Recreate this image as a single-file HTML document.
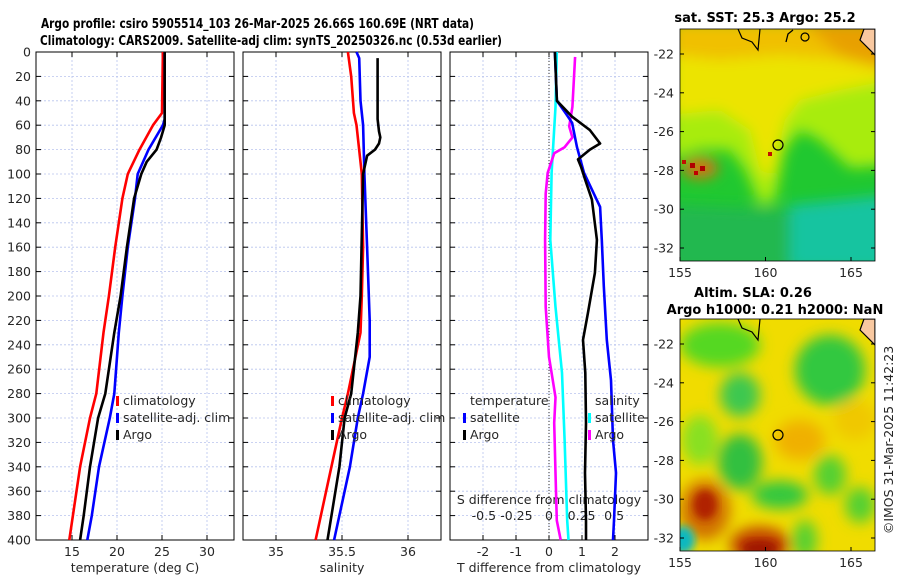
<!DOCTYPE html>
<html><head><meta charset="utf-8"><style>
html,body{margin:0;padding:0;background:#fff}
svg{display:block;font-family:"DejaVu Sans","Liberation Sans",sans-serif}
.t{font-size:12.5px;fill:#262626}
.b{font-weight:bold;font-size:13px;fill:#000}
.bt{font-weight:bold;font-size:13.5px;fill:#000}
</style></head><body>
<svg id="fig" width="900" height="580" viewBox="0 0 900 580">
<defs>
<filter id="bl" x="-20%" y="-20%" width="140%" height="140%"><feGaussianBlur stdDeviation="7"/></filter>
<filter id="bl2" x="-20%" y="-20%" width="140%" height="140%"><feGaussianBlur stdDeviation="4"/></filter>
<clipPath id="c1"><rect x="680" y="29" width="195" height="232"/></clipPath>
<clipPath id="c2"><rect x="680" y="319" width="195" height="232"/></clipPath>
</defs>
<text class="bt" x="41" y="28" textLength="433" lengthAdjust="spacingAndGlyphs">Argo profile: csiro 5905514_103 26-Mar-2025 26.66S 160.69E (NRT data)</text>
<text class="bt" x="40" y="45" textLength="462" lengthAdjust="spacingAndGlyphs">Climatology: CARS2009. Satellite-adj clim: synTS_20250326.nc (0.53d earlier)</text>
<g id="axes"></g>
<g id="lines"></g>

<!-- map 1 SST -->
<g>
<g clip-path="url(#c1)">
<rect x="680" y="29" width="195" height="232" fill="#20c830"/>
<g filter="url(#bl)">
<path d="M670,20 L890,20 L890,165 L850,168 L820,140 L800,130 L785,150 L775,200 L760,205 L745,170 L730,150 L700,150 L670,160 Z" fill="#a8ec10"/>
<path d="M670,20 L890,20 L890,80 L840,90 L800,100 L785,120 L770,180 L760,170 L750,130 L720,110 L670,115 Z" fill="#ece400"/>
<path d="M670,20 L890,20 L890,70 L840,60 L780,55 L720,60 L670,55 Z" fill="#f0c000"/>
<path d="M800,20 L890,20 L890,70 L840,55 Z" fill="#e8a000"/>
<path d="M790,205 L890,195 L890,270 L790,270 Z" fill="#14c4a0"/>
<path d="M670,205 L790,210 L790,270 L670,270 Z" fill="#22b850"/>
<ellipse cx="700" cy="168" rx="18" ry="10" fill="#e07010"/>
</g>
<rect x="690" y="163" width="5" height="5" fill="#b00000"/><rect x="700" y="166" width="5" height="5" fill="#b00000"/><rect x="682" y="160" width="4" height="4" fill="#c01000"/><rect x="694" y="171" width="4" height="4" fill="#c00000"/>
<rect x="768" y="152" width="4" height="4" fill="#c01000"/>
<path d="M864,29 L875,29 L875,55 L860,40 Z" fill="#f8c8a0" stroke="#000" stroke-width="1.2"/>
<path d="M738,29 L742,38 L752,42 L758,50 L760,29" fill="none" stroke="#000" stroke-width="1.2"/>
<path d="M786,42 L788,34 L793,30" fill="none" stroke="#000" stroke-width="1.3"/>
<ellipse cx="805" cy="37" rx="4" ry="4" fill="none" stroke="#000" stroke-width="1.2"/>
<circle cx="778" cy="145" r="5" fill="none" stroke="#000" stroke-width="1.2"/>
</g>
<rect x="680" y="29" width="195" height="232" fill="none" stroke="#000" stroke-width="0.8"/>
<text class="b" x="765" y="22" text-anchor="middle">sat. SST: 25.3 Argo: 25.2</text>
</g>

<!-- map 2 SLA -->
<g>
<g clip-path="url(#c2)">
<rect x="680" y="319" width="195" height="232" fill="#f0dc00"/>
<g filter="url(#bl)">
<ellipse cx="720" cy="345" rx="40" ry="22" fill="#55d820"/>
<ellipse cx="830" cy="370" rx="35" ry="35" fill="#33c840"/>
<ellipse cx="740" cy="395" rx="20" ry="22" fill="#3cc850"/>
<ellipse cx="740" cy="462" rx="22" ry="28" fill="#33c040"/>
<ellipse cx="780" cy="495" rx="28" ry="14" fill="#33c840"/>
<ellipse cx="830" cy="475" rx="16" ry="20" fill="#55d030"/>
<ellipse cx="700" cy="440" rx="18" ry="25" fill="#88e020"/>
<ellipse cx="860" cy="505" rx="15" ry="18" fill="#55d030"/>
<ellipse cx="805" cy="540" rx="12" ry="20" fill="#55d030"/>
<ellipse cx="705" cy="510" rx="25" ry="30" fill="#d07000"/>
<ellipse cx="760" cy="545" rx="30" ry="18" fill="#c04000"/>
<ellipse cx="800" cy="440" rx="25" ry="20" fill="#f0b000"/>
<ellipse cx="855" cy="420" rx="22" ry="20" fill="#f0c800"/>
</g>
<ellipse cx="705" cy="505" rx="12" ry="15" fill="#b02000" filter="url(#bl2)"/>
<ellipse cx="760" cy="548" rx="18" ry="8" fill="#a01800" filter="url(#bl2)"/>
<ellipse cx="683" cy="540" rx="12" ry="14" fill="#10b8c0" filter="url(#bl2)"/>
<path d="M864,319 L875,319 L875,345 L860,330 Z" fill="#f8c8a0" stroke="#000" stroke-width="1.2"/>
<path d="M738,319 L742,328 L752,332 L758,340 L760,319" fill="none" stroke="#000" stroke-width="1.2"/>
<circle cx="778" cy="435" r="5" fill="none" stroke="#000" stroke-width="1.2"/>
</g>
<rect x="680" y="319" width="195" height="232" fill="none" stroke="#000" stroke-width="0.8"/>
<text class="b" x="753" y="297" text-anchor="middle">Altim. SLA: 0.26</text>
<text class="b" x="775" y="314" text-anchor="middle">Argo h1000: 0.21 h2000: NaN</text>
</g>
<g id="mapticks"></g>
<text class="t" transform="translate(893,440) rotate(-90)" text-anchor="middle">©IMOS 31-Mar-2025 11:42:23</text>
</svg>
<script>
// ---- data ----
const depthTicks = [0,20,40,60,80,100,120,140,160,180,200,220,240,260,280,300,320,340,360,380,400];
const tempTicks = [15,20,25,30];
const salTicks = [35,35.5,36];
const salTickLabels = ["35","35.5","36"];
const tdiffTicks = [-2,-1,0,1,2];
const sdiffTicks = [-0.5,-0.25,0,0.25,0.5];
const sdiffTickLabels = ["-0.5","-0.25","0","0.25","0.5"];

const climTDepth = [0,50,60,80,100,120,140,160,200,230,280,300,340,380,400];
const climT      = [25.1,25.0,24.0,22.5,21.2,20.6,20.2,19.8,19.1,18.5,17.7,17.0,15.9,15.1,14.7];
const satTDepth  = [0,55,60,80,100,120,160,200,230,280,300,340,380,400];
const satT       = [25.3,25.3,25.1,23.5,22.3,22.0,21.2,20.6,20.2,19.7,19.2,18.0,17.2,16.7];
const argoTDepth = [0,60,70,80,90,100,120,160,200,230,280,300,340,380,400];
const argoT      = [25.3,25.3,24.9,24.4,23.3,22.7,21.9,21.1,20.4,19.7,18.7,17.9,17.0,16.3,15.9];

const climSDepth = [0,20,50,60,100,160,200,230,280,300,340,400];
const climS      = [35.545,35.57,35.59,35.61,35.65,35.66,35.65,35.64,35.545,35.50,35.42,35.30];
const satSDepth  = [0,5,40,60,100,160,220,250,280,300,340,400];
const satS       = [35.61,35.63,35.64,35.66,35.67,35.69,35.71,35.71,35.66,35.62,35.56,35.44];
const argoSDepth = [5,55,65,70,75,80,85,100,150,200,230,280,300,340,400];
const argoS      = [35.77,35.77,35.78,35.79,35.78,35.75,35.69,35.66,35.65,35.64,35.62,35.57,35.52,35.48,35.39];

const satTdDepth = [0,40,50,58,78,99,127,154,192,236,269,318,345,384,400];
const satTd      = [0.18,0.24,0.5,0.7,0.85,1.06,1.55,1.6,1.66,1.75,1.88,1.94,2.03,1.97,1.94];
const argoTdDepth= [0,40,53,64,75,80,88,94,105,121,154,181,214,236,263,304,345,384,400];
const argoTd     = [0.18,0.24,0.7,1.24,1.55,1.24,0.88,0.97,1.1,1.3,1.45,1.39,1.18,1.03,1.1,1.12,1.09,1.12,1.12];
const satSdDepth = [0,45,99,154,209,263,318,384,400];
const satSd      = [0.06,0.05,0.02,0.01,0.05,0.10,0.12,0.14,0.15];
const argoSdDepth= [4,45,61,70,78,83,99,116,154,209,250,263,283,304,345,384,400];
const argoSd     = [0.2,0.18,0.155,0.18,0.12,0.04,-0.01,-0.025,-0.03,-0.025,0,0.02,0.05,0.04,0.05,0.06,0.09];

const latTicks = [-22,-24,-26,-28,-30,-32];
const lonTicks = [155,160,165];

// ---- helpers ----
const NS="http://www.w3.org/2000/svg";
const axes=document.getElementById('axes'), lines=document.getElementById('lines'), mt=document.getElementById('mapticks');
function mk(tag,attrs,parent){const e=document.createElementNS(NS,tag);for(const k in attrs)e.setAttribute(k,attrs[k]);parent.appendChild(e);return e;}
const Y0=52, Y1=540;
const yD = d => Y0 + (Y1-Y0)*d/400;
const panels=[{x0:36,x1:234,lo:11,hi:33},{x0:243,x1:441,lo:34.75,hi:36.25},{x0:450,x1:648,lo:-3,hi:3}];
const xs = (p,v)=>p.x0+(p.x1-p.x0)*(v-p.lo)/(p.hi-p.lo);
const sP={x0:450,x1:648,lo:-0.76,hi:0.76};

function panel(p,ticks,labels,xlabel,name){
  const g=mk('g',{},axes);
  
  
  ticks.forEach(v=>{const x=xs(p,v);mk('line',{x1:x,x2:x,y1:Y0,y2:Y1,stroke:'#b8c4ee','stroke-width':0.8,'stroke-dasharray':'2,2'},g);
    mk('line',{x1:x,x2:x,y1:Y1,y2:Y1-5,stroke:'#000'},g);mk('line',{x1:x,x2:x,y1:Y0,y2:Y0+5,stroke:'#000'},g);});
  depthTicks.forEach(d=>{const y=yD(d);mk('line',{x1:p.x0,x2:p.x1,y1:y,y2:y,stroke:'#b8c4ee','stroke-width':0.8,'stroke-dasharray':'2,2'},g);
    mk('line',{x1:p.x0,x2:p.x0+5,y1:y,y2:y,stroke:'#000'},g);mk('line',{x1:p.x1-5,x2:p.x1,y1:y,y2:y,stroke:'#000'},g);});
  mk('rect',{x:p.x0,y:Y0,width:p.x1-p.x0,height:Y1-Y0,fill:'none',stroke:'#000','stroke-width':1},g);
  ticks.forEach((v,i)=>{const t=mk('text',{x:xs(p,v),y:556,'text-anchor':'middle',class:'t'},g);t.textContent=labels[i];
    
    });
  const xl=mk('text',{x:(p.x0+p.x1)/2,y:572,'text-anchor':'middle',class:'t'},g);xl.textContent=xlabel;
  
  
}
panel(panels[0],tempTicks,tempTicks.map(String),'temperature (deg C)','temperature-panel');
panel(panels[1],salTicks,salTickLabels,'salinity','salinity-panel');
panel(panels[2],tdiffTicks,tdiffTicks.map(String),'T difference from climatology','difference-panel');
depthTicks.forEach(d=>{const t=mk('text',{x:31,y:yD(d)+4.5,'text-anchor':'end',class:'t'},axes);t.textContent=String(d);
  
  });
mk('line',{x1:xs(panels[2],0),x2:xs(panels[2],0),y1:Y0,y2:Y1,stroke:'#333','stroke-width':1,'stroke-dasharray':'1,2'},axes);
const sl=mk('text',{x:549,y:504,'text-anchor':'middle',class:'t'},axes);sl.textContent='S difference from climatology';


sdiffTicks.forEach((v,i)=>{const t=mk('text',{x:xs(sP,v),y:520,'text-anchor':'middle',class:'t'},axes);t.textContent=sdiffTickLabels[i];
  
  });

function series(p,depths,vals,color,name){
  const pts=depths.map((d,i)=>xs(p,vals[i]).toFixed(1)+','+yD(d).toFixed(1)).join(' ');
  const e=mk('polyline',{points:pts,fill:'none',stroke:color,'stroke-width':2.6,'stroke-linejoin':'round'},lines);
  
  
}
series(panels[0],climTDepth,climT,'#ff0000','climatology-temperature-line');
series(panels[0],satTDepth,satT,'#0000ff','satellite-temperature-line');
series(panels[0],argoTDepth,argoT,'#000000','argo-temperature-line');
series(panels[1],climSDepth,climS,'#ff0000','climatology-salinity-line');
series(panels[1],satSDepth,satS,'#0000ff','satellite-salinity-line');
series(panels[1],argoSDepth,argoS,'#000000','argo-salinity-line');
series(sP,satSdDepth,satSd,'#00ffff','satellite-salinity-diff-line');
series(sP,argoSdDepth,argoSd,'#ff00ff','argo-salinity-diff-line');
series(panels[2],satTdDepth,satTd,'#0000ff','satellite-temperature-diff-line');
series(panels[2],argoTdDepth,argoTd,'#000000','argo-temperature-diff-line');

function legend(x,y,items,name){
  const g=mk('g',{},lines);
  
  
  items.forEach((it,i)=>{const yy=y+i*17;
    if(it[1])mk('rect',{x:x-7,y:yy-9,width:3,height:10,fill:it[1]},g);
    const t=mk('text',{x:x,y:yy,class:'t'},g);t.textContent=it[0];});
}
legend(123,405,[['climatology','#ff0000'],['satellite-adj. clim','#0000ff'],['Argo','#000']],'temperature-legend');
legend(338,405,[['climatology','#ff0000'],['satellite-adj. clim','#0000ff'],['Argo','#000']],'salinity-legend');
legend(470,405,[['temperature',null],['satellite','#0000ff'],['Argo','#000']],'t-diff-legend');
legend(595,405,[['salinity',null],['satellite','#00ffff'],['Argo','#ff00ff']],'s-diff-legend');

const lonX=v=>680+(v-155)*17.1;
[[29,261,'sst'],[319,551,'sla']].forEach(([top,bot,nm])=>{
  const latY=v=>top+25+(-22-v)*19.4;
  latTicks.forEach(v=>{const y=latY(v);mk('line',{x1:680,x2:684,y1:y,y2:y,stroke:'#000'},mt);mk('line',{x1:871,x2:875,y1:y,y2:y,stroke:'#000'},mt);
    const t=mk('text',{x:674,y:y+4.5,'text-anchor':'end',class:'t'},mt);t.textContent=String(v);
    
    });
  lonTicks.forEach(v=>{const x=lonX(v);mk('line',{x1:x,x2:x,y1:bot,y2:bot-4,stroke:'#000'},mt);
    const t=mk('text',{x:x,y:bot+16,'text-anchor':'middle',class:'t'},mt);t.textContent=String(v);
    
    });
});
</script>
</body></html>
